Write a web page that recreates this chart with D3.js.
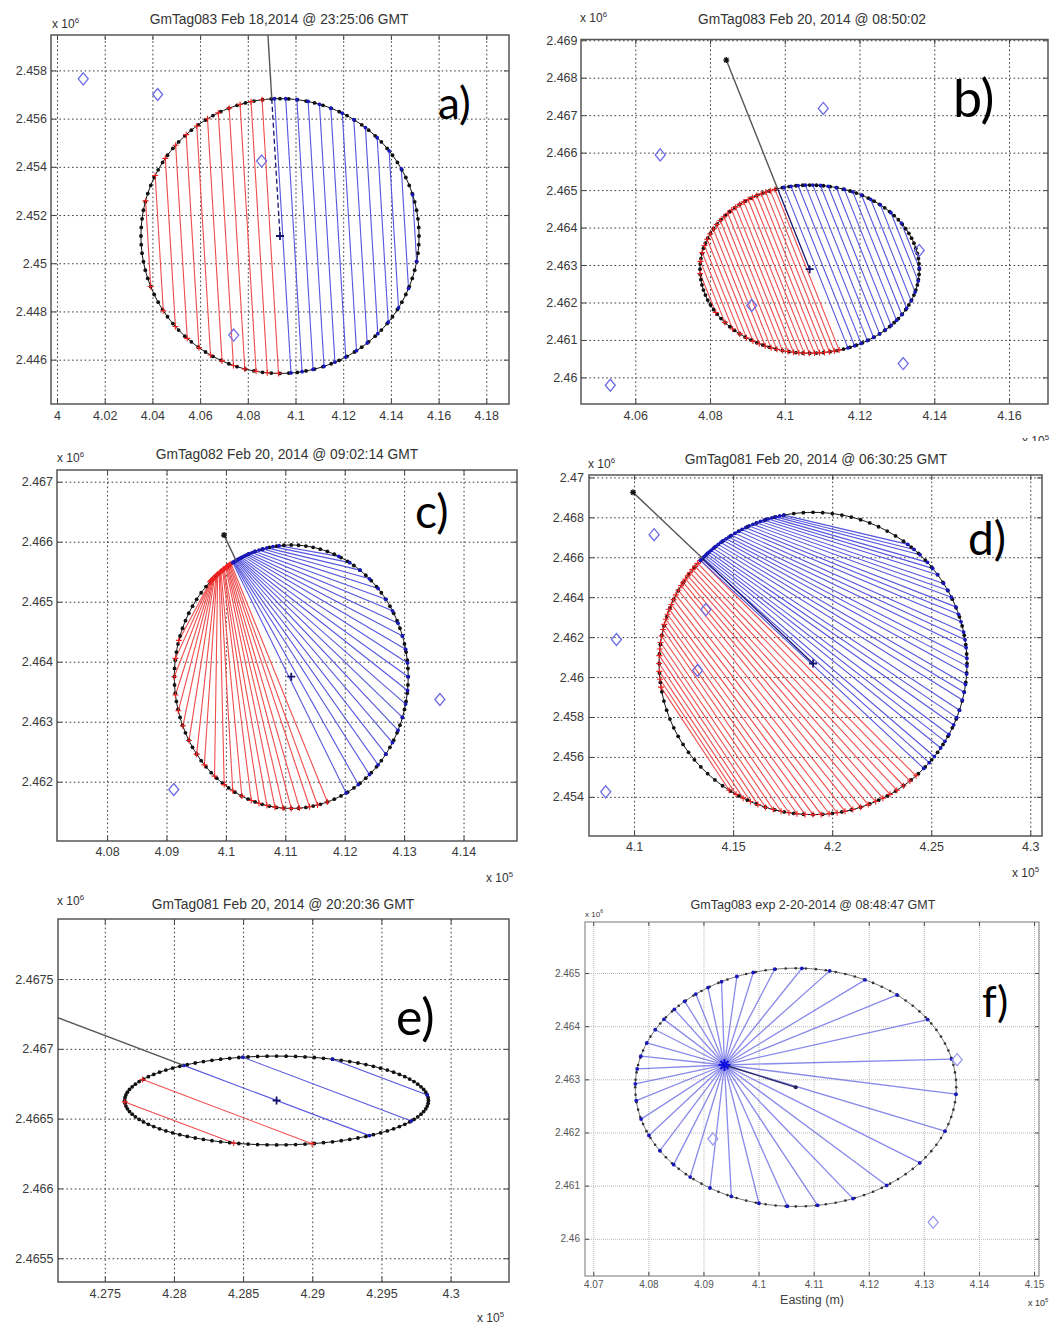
<!DOCTYPE html>
<html><head><meta charset="utf-8">
<script src="https://cdn.jsdelivr.net/npm/d3@7"></script>
<style>
body{margin:0;background:#fff;}
svg{display:block;}
text{font-family:"Liberation Sans",Arial,sans-serif;}
</style></head><body>
<svg id="fig" width="1053" height="1324"></svg>
<script>
// ---------------- DATA (x in units of 1e5 m, y in units of 1e6 m) ----------------
// Panel a
const aTitle = "GmTag083  Feb 18,2014 @ 23:25:06 GMT";
const aXTicks = [4, 4.02, 4.04, 4.06, 4.08, 4.1, 4.12, 4.14, 4.16, 4.18];
const aYTicks = [2.446, 2.448, 2.45, 2.452, 2.454, 2.456, 2.458];
const aEllipse = [4.0935, 2.45113, 0.0583, 0.0057];   // cx, cy, rx, ry
const aSource = [4.0857, 2.464];
const aRedOffsets = [-0.95, -0.87, -0.79, -0.71, -0.63, -0.55, -0.47, -0.39, -0.31, -0.23, -0.15, -0.07];
const aBlueOffsets = [0.02, 0.1, 0.18, 0.26, 0.34, 0.42, 0.5, 0.58, 0.66, 0.74, 0.82, 0.9, 0.97];
const aTowers = [[4.011, 2.45765], [4.0422, 2.4570], [4.0858, 2.45424], [4.0741, 2.44702]];

// Panel b
const bTitle = "GmTag083 Feb 20, 2014 @ 08:50:02";
const bXTicks = [4.06, 4.08, 4.1, 4.12, 4.14, 4.16];
const bYTicks = [2.46, 2.461, 2.462, 2.463, 2.464, 2.465, 2.466, 2.467, 2.468, 2.469];
const bEllipse = [4.10666, 2.46289, 0.02933, 0.002244];
const bSource = [4.08436, 2.46847];
const bRedOffsets = [-0.97, -0.925, -0.88, -0.835, -0.79, -0.745, -0.70, -0.655, -0.61, -0.565, -0.52, -0.475, -0.43, -0.385, -0.34, -0.295, -0.25, -0.205, -0.16, -0.115, -0.07, -0.025];
const bBlueOffsets = [0.06, 0.125, 0.19, 0.255, 0.32, 0.385, 0.45, 0.515, 0.58, 0.645, 0.71, 0.775, 0.84, 0.905, 0.96];
const bTowers = [[4.05332, 2.45979], [4.06668, 2.46594], [4.1103, 2.46718], [4.13597, 2.46339], [4.09115, 2.46192], [4.13169, 2.46037]];

// Panel c
const cTitle = "GmTag082  Feb 20, 2014 @ 09:02:14 GMT";
const cXTicks = [4.08, 4.09, 4.1, 4.11, 4.12, 4.13, 4.14];
const cYTicks = [2.462, 2.463, 2.464, 2.465, 2.466, 2.467];
const cEllipse = [4.1110, 2.46375, 0.01968, 0.002195];
const cSource = [4.09968, 2.46611];
const cRedStart = [134, 133.5, 133, 132.5, 132, 131.5, 131, 130, 129.5, 129, 128, 127.5, 127, 126, 125.5, 125, 124, 123.5, 123, 122.5, 122, 121.5, 121];
const cRedEnd = [164, 172, 180, 188, 195, 202, 209, 216, 222, 229, 235, 240, 245, 250, 254, 258, 262, 266, 270, 274, 279, 283, 288];
const cBlueStart = [96, 99, 102, 104, 106, 108, 109.5, 111, 112, 113, 114, 115, 115.8, 116.5, 117, 117.5, 118, 118.5, 119, 119.3, 119.6, 120];
const cBlueEnd = [66, 60, 54, 48, 42, 36, 30, 24, 18, 12, 6, 0, -6, -12, -18, -24, -30, -36, -42, -48, -55, -62];
const cTowers = [[4.09123, 2.46187], [4.13602, 2.46337]];

// Panel d
const dTitle = "GmTag081 Feb 20, 2014 @ 06:30:25 GMT";
const dXTicks = [4.1, 4.15, 4.2, 4.25, 4.3];
const dYTicks = [2.454, 2.456, 2.458, 2.46, 2.462, 2.464, 2.466, 2.468, 2.47];
const dEllipse = [4.19034, 2.46068, 0.0777, 0.007569];
const dSource = [4.0995, 2.46925];
const dBlueStart = [101, 102.5, 104, 105.5, 107, 108.5, 110, 111.5, 113, 114.5, 116, 117.5, 119, 120.5, 122, 123.2, 124.4, 125.6, 126.8, 128, 129.2, 130.4, 131.5, 132.5, 133.4, 134.2, 135, 135.7, 136.3, 137];
const dBlueEnd = [52, 49, 46, 42, 39, 36, 32, 29, 26, 22, 19, 16, 12, 9, 6, 2, -1, -4, -8, -11, -14, -18, -21, -24, -28, -31, -34, -38, -41, -44];
const dRedStart = [137, 138.5, 140, 141.5, 143, 144.5, 146, 147.5, 149, 151, 153, 155, 157, 159, 161, 163, 165, 167, 169.5, 172, 174.5, 177, 180, 183, 186, 189];
const dRedEnd = [312, 309, 306, 303, 300, 297, 294, 291, 288, 285, 282, 279, 276, 273, 270, 267, 264, 261, 258, 255, 252, 249, 246, 243, 240, 237];
const dTowers = [[4.11011, 2.46713], [4.0911, 2.46188], [4.13625, 2.46338], [4.13205, 2.46033], [4.08569, 2.45425]];

// Panel e
const eTitle = "GmTag081 Feb 20, 2014 @ 20:20:36 GMT";
const eXTicks = [4.275, 4.28, 4.285, 4.29, 4.295, 4.3];
const eYTicks = [2.4655, 2.466, 2.4665, 2.467, 2.4675];
const eEllipse = [4.28742, 2.46663, 0.010977, 0.000318];
const eSource = [4.265, 2.46747];
const eRedOffsets = [-0.81, -0.41];
const eBlueOffsets = [0, 0.42, 0.86];

// Panel f
const fTitle = "GmTag083 exp 2-20-2014 @ 08:48:47 GMT";
const fXTicks = [4.07, 4.08, 4.09, 4.1, 4.11, 4.12, 4.13, 4.14, 4.15];
const fYTicks = [2.46, 2.461, 2.462, 2.463, 2.464, 2.465];
const fEllipse = [4.10675, 2.46285, 0.02913, 0.002241];
const fFanOrigin = [4.09381, 2.46327];
const fRayAngles = [1.5, 12.6, 22.1, 31.2, 41.8, 51.3, 62.3, 72.7, 82, 92, 102, 112, 122, 132, 143, 153, 164.2, 174, 182.6, 192, 202, 213, 223, 233, 243, 253, 263.3, 273, 284, 294, 303.6, 313.9, 323.4, 333.4, 343.3, 352.8];
const fTowers = [[4.13604, 2.46337], [4.09171, 2.46188], [4.13169, 2.46031]];
const fXLabel = "Easting (m)";

// ---------------- LAYOUT ----------------
const panels = [
  {id:"a", tile:[0,0,528,441], x0:51, x1:509, y0:35, y1:404, xDomain:[3.99748,4.18952], yDomain:[2.44416,2.45947],
   xTicks:aXTicks, yTicks:aYTicks, title:aTitle, titlePos:[279,24], titleSize:13.8, exp6:[52,28], exp5:null,
   letter:"a)", letterPos:[438,119], letterSize:44, ellipse:aEllipse, source:aSource, inner:"dash",
   red:{offs:aRedOffsets}, blue:{offs:aBlueOffsets}, towers:aTowers, font:12.5, xPad:7, yPad:4, fine:false},
  {id:"b", tile:[528,0,525,441], x0:581, x1:1048, y0:39.5, y1:404, xDomain:[4.04548,4.17043], yDomain:[2.45929,2.46902],
   xTicks:bXTicks, yTicks:bYTicks, title:bTitle, titlePos:[812,24], titleSize:13.8, exp6:[580,22], exp5:[1022,445],
   letter:"b)", letterPos:[953,117], letterSize:52, ellipse:bEllipse, source:bSource, inner:"solid",
   red:{offs:bRedOffsets}, blue:{offs:bBlueOffsets}, towers:bTowers, font:12.5, xPad:7, yPad:3.5, fine:false},
  {id:"c", tile:[0,441,528,444], x0:57, x1:517, y0:470, y1:841, xDomain:[4.07157,4.149], yDomain:[2.461012,2.467195],
   xTicks:cXTicks, yTicks:cYTicks, title:cTitle, titlePos:[287,459], titleSize:13.8, exp6:[57,462], exp5:[486,882],
   letter:"c)", letterPos:[415,528], letterSize:46, ellipse:cEllipse, source:cSource, inner:"none",
   red:{start:cRedStart, end:cRedEnd}, blue:{start:cBlueStart, end:cBlueEnd}, towers:cTowers, font:12.5, xPad:6.5, yPad:4, fine:false},
  {id:"d", tile:[528,441,525,444], x0:589, x1:1042, y0:475, y1:836, xDomain:[4.07725,4.30591], yDomain:[2.45204,2.47012],
   xTicks:dXTicks, yTicks:dYTicks, title:dTitle, titlePos:[816,464], titleSize:13.8, exp6:[588,468], exp5:[1012,877],
   letter:"d)", letterPos:[968,555], letterSize:46, ellipse:dEllipse, source:dSource, inner:"solid",
   red:{start:dRedStart, end:dRedEnd}, blue:{start:dBlueStart, end:dBlueEnd}, towers:dTowers, font:12.5, xPad:6.5, yPad:5, fine:false},
  {id:"e", tile:[0,885,528,439], x0:58, x1:509, y0:919, y1:1282, xDomain:[4.27162,4.30422], yDomain:[2.46533,2.46793],
   xTicks:eXTicks, yTicks:eYTicks, title:eTitle, titlePos:[283,909], titleSize:13.8, exp6:[57,905], exp5:[477,1322],
   letter:"e)", letterPos:[396,1035], letterSize:50, ellipse:eEllipse, source:eSource, inner:"none",
   red:{offs:eRedOffsets}, blue:{offs:eBlueOffsets}, towers:[], font:12.5, xPad:7, yPad:4.5, fine:false},
  {id:"f", tile:[528,885,525,439], x0:585, x1:1039, y0:922, y1:1276, xDomain:[4.0685,4.1509], yDomain:[2.4593,2.46596],
   xTicks:fXTicks, yTicks:fYTicks, title:fTitle, titlePos:[813,909], titleSize:12.5, exp6:[585,917], exp5:[1028,1306],
   letter:"f)", letterPos:[982,1017], letterSize:42, ellipse:fEllipse, source:null, inner:"none",
   fan:{origin:fFanOrigin, angles:fRayAngles}, towers:fTowers, font:10, xPad:4.5, yPad:5, fine:true, xLabel:fXLabel}
];

const RED = "#f04c4c", BLUE = "#5555de", NAVY = "#14146e";
const svg = d3.select("#fig");
const fmt = v => String(+v.toFixed(4));
const rad = d => d * Math.PI / 180;
const ellPt = (E, u, v) => [E[0] + E[2] * u, E[1] + E[3] * v];
const angPt = (E, deg) => ellPt(E, Math.cos(rad(deg)), Math.sin(rad(deg)));

function parallelChords(E, S, offs) {
  let du = (E[0] - S[0]) / E[2], dv = (E[1] - S[1]) / E[3];
  const L = Math.hypot(du, dv); du /= L; dv /= L;
  const pu = -dv, pv = du;
  return offs.map(o => {
    const h = Math.sqrt(Math.max(0, 1 - o * o));
    return [ellPt(E, o * pu - h * du, o * pv - h * dv), ellPt(E, o * pu + h * du, o * pv + h * dv)];
  });
}
function entryPoint(E, S) {
  let du = (E[0] - S[0]) / E[2], dv = (E[1] - S[1]) / E[3];
  const L = Math.hypot(du, dv);
  return ellPt(E, -du / L, -dv / L);
}

function drawPanel(P) {
  const g = svg.append("g");
  g.append("rect").attr("x", P.tile[0]).attr("y", P.tile[1]).attr("width", P.tile[2]).attr("height", P.tile[3]).attr("fill", "#fff");
  const x = d3.scaleLinear().domain(P.xDomain).range([P.x0, P.x1]);
  const y = d3.scaleLinear().domain(P.yDomain).range([P.y1, P.y0]);
  const W = P.x1 - P.x0, H = P.y1 - P.y0;
  const clipId = "clip" + P.id;
  svg.append("clipPath").attr("id", clipId).append("rect").attr("x", P.x0).attr("y", P.y0).attr("width", W).attr("height", H);

  const gridColor = P.fine ? "#b8b8b8" : "#3c3c3c";
  const gridDash = P.fine ? "1,1" : "1.6,2.6";
  const labColor = P.fine ? "#555" : "#3a3a3a";

  const gx = g.append("g").attr("transform", `translate(0,${P.y1})`)
    .call(d3.axisBottom(x).tickValues(P.xTicks).tickFormat(fmt).tickSize(-H).tickPadding(P.xPad));
  const gy = g.append("g").attr("transform", `translate(${P.x0},0)`)
    .call(d3.axisLeft(y).tickValues(P.yTicks).tickFormat(fmt).tickSize(-W).tickPadding(P.yPad));
  [gx, gy].forEach(ax => {
    ax.select(".domain").remove();
    ax.selectAll("line").attr("stroke", gridColor).attr("stroke-dasharray", gridDash).attr("stroke-width", 1);
    ax.selectAll("text").attr("fill", labColor).style("font-size", P.font + "px").style("font-family", '"Liberation Sans",Arial,sans-serif');
  });
  const tl = P.fine ? 4 : 5;
  [[d3.axisBottom(x).tickValues(P.xTicks), `translate(0,${P.y1})`],
   [d3.axisTop(x).tickValues(P.xTicks), `translate(0,${P.y0})`],
   [d3.axisLeft(y).tickValues(P.yTicks), `translate(${P.x0},0)`],
   [d3.axisRight(y).tickValues(P.yTicks), `translate(${P.x1},0)`]].forEach(([ax, tr]) => {
    const a = g.append("g").attr("transform", tr).call(ax.tickSize(-tl).tickFormat(""));
    a.select(".domain").remove();
    a.selectAll("line").attr("stroke", "#444");
  });

  const plot = g.append("g").attr("clip-path", `url(#${clipId})`);
  const E = P.ellipse;
  const line = d3.line().x(d => x(d[0])).y(d => y(d[1]));

  let redCh = [], blueCh = [];
  if (P.red && P.red.offs) redCh = parallelChords(E, P.source, P.red.offs);
  if (P.blue && P.blue.offs) blueCh = parallelChords(E, P.source, P.blue.offs);
  if (P.red && P.red.start) redCh = P.red.start.map((s, i) => [angPt(E, s), angPt(E, P.red.end[i])]);
  if (P.blue && P.blue.start) blueCh = P.blue.start.map((s, i) => [angPt(E, s), angPt(E, P.blue.end[i])]);

  let fanEnds = [];
  if (P.fan) {
    const Cx = x(E[0]), Cy = y(E[1]), rxp = x(E[0] + E[2]) - Cx, ryp = Cy - y(E[1] + E[3]);
    const Ox = x(P.fan.origin[0]), Oy = y(P.fan.origin[1]);
    fanEnds = P.fan.angles.map(a => {
      const dx = Math.cos(rad(a)), dy = -Math.sin(rad(a));
      const px = (Ox - Cx) / rxp, py = (Oy - Cy) / ryp, qx = dx / rxp, qy = dy / ryp;
      const A = qx * qx + qy * qy, B = 2 * (px * qx + py * qy), C = px * px + py * py - 1;
      const t = (-B + Math.sqrt(B * B - 4 * A * C)) / (2 * A);
      return [x.invert(Ox + t * dx), y.invert(Oy + t * dy)];
    });
    plot.append("g").selectAll("path").data(fanEnds).join("path")
      .attr("d", d => line([P.fan.origin, d])).attr("stroke", "#7474e6").attr("stroke-width", 1.3).attr("fill", "none").attr("opacity", 0.85);
  }

  plot.append("g").selectAll("path").data(redCh).join("path")
    .attr("d", d => line(d)).attr("stroke", RED).attr("stroke-width", 1.1).attr("fill", "none");
  plot.append("g").selectAll("path").data(blueCh).join("path")
    .attr("d", d => line(d)).attr("stroke", BLUE).attr("stroke-width", 1.1).attr("fill", "none");

  const outline = d3.range(0, 361, 2).map(a => angPt(E, a));
  plot.append("path").attr("d", line(outline)).attr("stroke", P.fine ? "#555" : "#111").attr("stroke-width", P.fine ? 0.8 : 1).attr("fill", "none");
  const dots = d3.range(0, 360, 3.6).map(a => angPt(E, a));
  plot.append("g").selectAll("circle").data(dots).join("circle")
    .attr("cx", d => x(d[0])).attr("cy", d => y(d[1])).attr("r", P.fine ? 1.3 : 1.9).attr("fill", P.fine ? "#333" : "#111");

  const redEnds = redCh.flat();
  plot.append("g").selectAll("path").data(redEnds).join("path")
    .attr("d", d => `M${x(d[0]) - 3},${y(d[1])}h6M${x(d[0])},${y(d[1]) - 3}v6`).attr("stroke", "#ee2222").attr("stroke-width", 1.1);
  const blueEnds = blueCh.flat().concat(fanEnds);
  plot.append("g").selectAll("circle").data(blueEnds).join("circle")
    .attr("cx", d => x(d[0])).attr("cy", d => y(d[1])).attr("r", 1.9).attr("fill", "#1818b8");

  if (P.source) {
    const entry = entryPoint(E, P.source);
    plot.append("path").attr("d", line([P.source, entry])).attr("stroke", "#555").attr("stroke-width", 1.4).attr("fill", "none");
    if (P.inner !== "none") {
      plot.append("path").attr("d", line([entry, [E[0], E[1]]])).attr("stroke", NAVY).attr("stroke-width", 1.3)
        .attr("fill", "none").attr("stroke-dasharray", P.inner === "dash" ? "5,3" : null);
    }
    const sx = x(P.source[0]), sy = y(P.source[1]);
    plot.append("path").attr("d", `M${sx - 3},${sy}h6M${sx},${sy - 3}v6M${sx - 2.2},${sy - 2.2}l4.4,4.4M${sx - 2.2},${sy + 2.2}l4.4,-4.4`)
      .attr("stroke", "#111").attr("stroke-width", 1.3);
  }
  if (P.fan) {
    plot.append("path").attr("d", line([P.fan.origin, [E[0], E[1]]])).attr("stroke", "#2a2a6a").attr("stroke-width", 1.4);
    const ox = x(P.fan.origin[0]), oy = y(P.fan.origin[1]);
    plot.append("path").attr("d", `M${ox - 6},${oy}h12M${ox},${oy - 6}v12M${ox - 4},${oy - 4}l8,8M${ox - 4},${oy + 4}l8,-8`)
      .attr("stroke", "#1010e0").attr("stroke-width", 2);
    plot.append("circle").attr("cx", x(E[0])).attr("cy", y(E[1])).attr("r", 2).attr("fill", "#22225a");
  }

  plot.append("g").selectAll("path").data(P.towers).join("path")
    .attr("d", d => { const X = x(d[0]), Y = y(d[1]); return `M${X},${Y - 6}L${X + 5},${Y}L${X},${Y + 6}L${X - 5},${Y}Z`; })
    .attr("fill", "none").attr("stroke", P.fine ? "#9a9af0" : "#6c6ce6").attr("stroke-width", 1.3);

  if (!P.fan) {
    const X = x(E[0]), Y = y(E[1]);
    plot.append("path").attr("d", `M${X - 4},${Y}h8M${X},${Y - 4}v8`).attr("stroke", NAVY).attr("stroke-width", 1.8);
  }

  g.append("rect").attr("x", P.x0).attr("y", P.y0).attr("width", W).attr("height", H)
    .attr("fill", "none").attr("stroke", P.fine ? "#777" : "#555").attr("stroke-width", P.fine ? 1 : 1.5);

  g.append("text").attr("x", P.titlePos[0]).attr("y", P.titlePos[1]).attr("text-anchor", "middle")
    .attr("fill", "#333").style("font-size", P.titleSize + "px").text(P.title);
  const expFont = P.fine ? 8 : 12;
  const e6 = g.append("text").attr("x", P.exp6[0]).attr("y", P.exp6[1]).attr("fill", "#333").style("font-size", expFont + "px").text("x 10");
  e6.append("tspan").attr("dy", -expFont * 0.45).style("font-size", (expFont * 0.65) + "px").text("6");
  if (P.exp5) {
    const ef = P.fine ? 9 : 12;
    const e5 = g.append("text").attr("x", P.exp5[0]).attr("y", P.exp5[1]).attr("fill", "#333").style("font-size", ef + "px").text("x 10");
    e5.append("tspan").attr("dy", -ef * 0.45).style("font-size", (ef * 0.65) + "px").text("5");
  }
  if (P.xLabel) {
    g.append("text").attr("x", (P.x0 + P.x1) / 2).attr("y", P.y1 + 28).attr("text-anchor", "middle")
      .attr("fill", "#444").style("font-size", "12.5px").text(P.xLabel);
  }
  g.append("text").attr("x", P.letterPos[0]).attr("y", P.letterPos[1]).attr("fill", "#000")
    .style("font-family", "Lato, 'Open Sans', sans-serif").style("font-size", P.letterSize + "px").text(P.letter);
}

panels.forEach(drawPanel);
</script></body></html>
